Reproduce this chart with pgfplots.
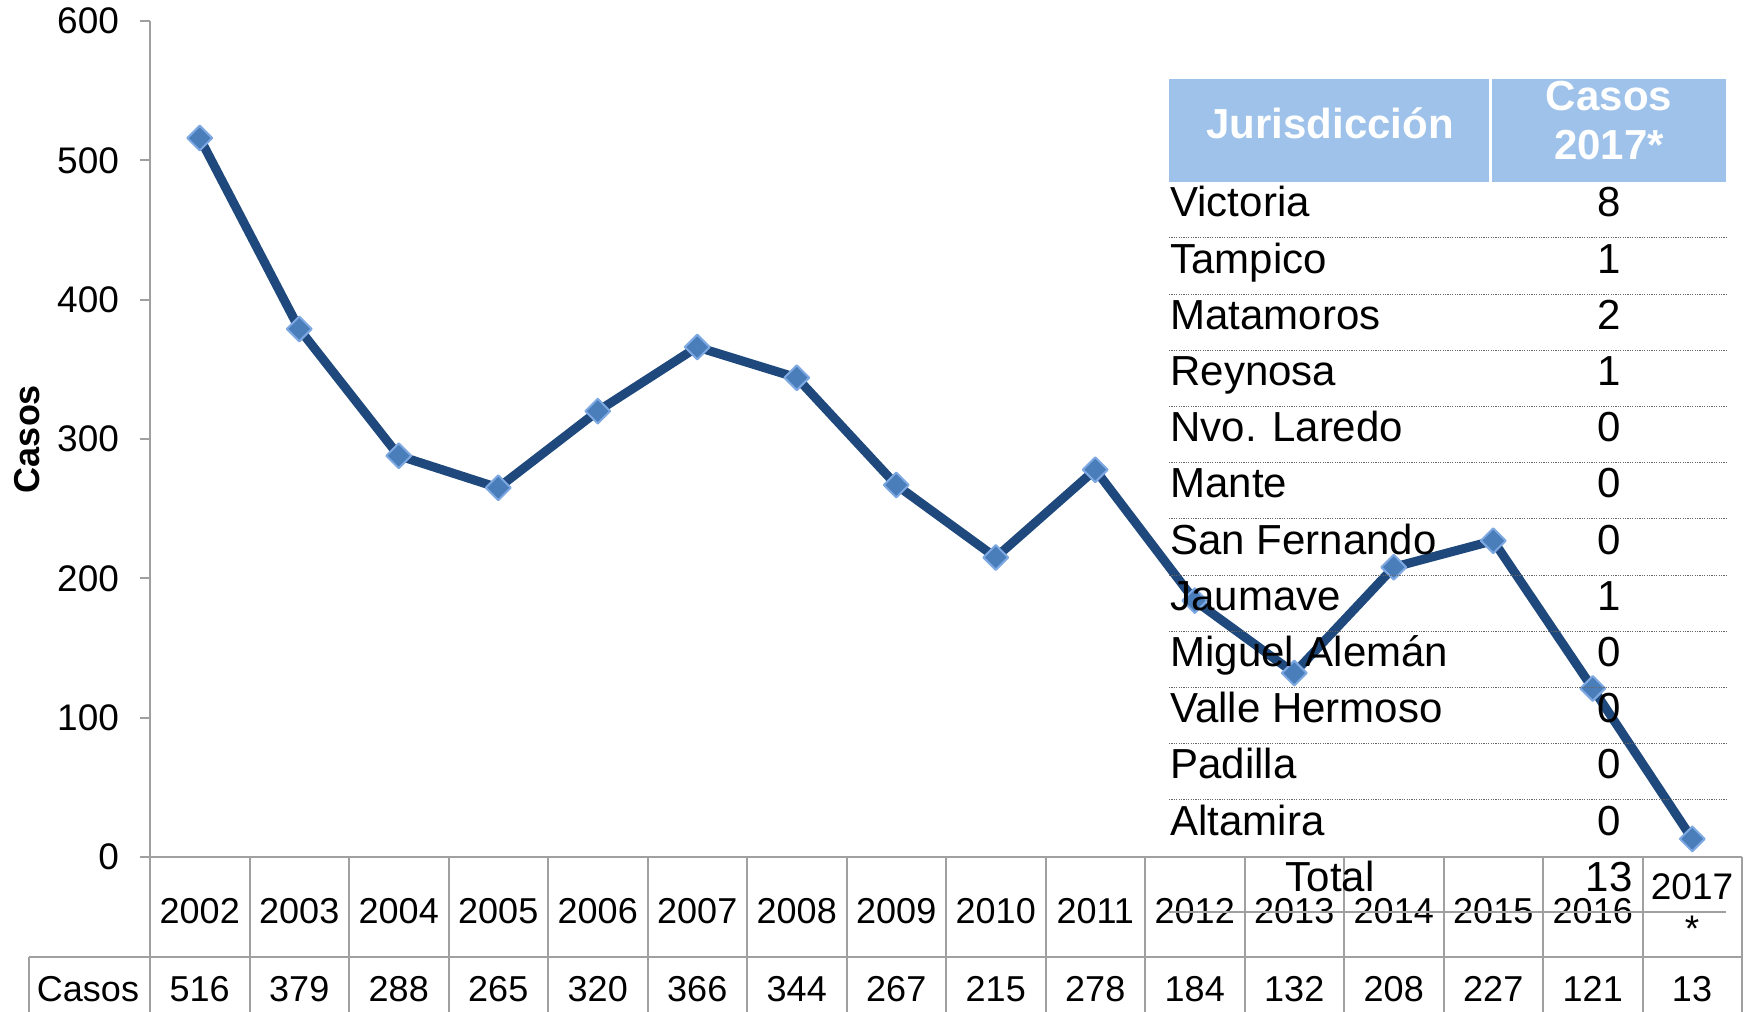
\documentclass[border=0pt]{standalone}
\usepackage{fontspec}
\setmainfont{Liberation Sans}
\usepackage{pgfplots}
\usepackage{pgfplotstable}
\pgfplotsset{compat=1.18}

\definecolor{serie}{RGB}{31,73,125}
\definecolor{marca}{RGB}{74,126,187}
\definecolor{borde}{RGB}{125,168,225}
\definecolor{encab}{RGB}{158,194,234}
\definecolor{rejilla}{RGB}{160,160,160}

% casos por anio
\pgfplotstableread{
x anio casos
0  2002 516
1  2003 379
2  2004 288
3  2005 265
4  2006 320
5  2007 366
6  2008 344
7  2009 267
8  2010 215
9  2011 278
10 2012 184
11 2013 132
12 2014 208
13 2015 227
14 2016 121
15 2017 13
}\datos

\begin{document}
\begin{tikzpicture}
\begin{axis}[
    scale only axis,
    width=796pt, height=418pt,
    xmin=-0.5, xmax=15.5,
    ymin=0, ymax=600,
    ytick={0,100,...,600},
    xtick=\empty,
    axis x line*=bottom,
    axis y line*=left,
    axis line style={rejilla, line width=1pt},
    ytick style={rejilla, line width=1pt},
    tick align=outside,
    major tick length=5pt,
    yticklabel style={font=\fontsize{18.5}{18.5}\selectfont, xshift=-7pt,
        /pgf/number format/assume math mode=true},
    clip=false,
]
\coordinate (O) at (rel axis cs:0,0);
\addplot[serie, line width=4.5pt, line join=round,
    mark=square*, mark size=4.4pt,
    mark options={rotate=45, fill=marca, draw=borde, line width=1pt}]
    table[x=x, y=casos] {\datos};
\end{axis}

% marco en pixeles de la imagen (origen arriba a la izquierda)
\begin{scope}[shift={(O)}, xshift=-75pt, yshift=428.5pt, x=0.5pt, y=-0.5pt]
\path[use as bounding box] (0,0) rectangle (1752,1012);

\node[rotate=90, font=\fontsize{18}{18}\selectfont\bfseries] at (27,439) {Casos};

% tabla de datos bajo el eje
\foreach \k in {0,...,16}
    \draw[rejilla, line width=1pt] ({150+99.5*\k},857) -- ({150+99.5*\k},1012);
\draw[rejilla, line width=1pt] (29,957) -- (1742,957);
\draw[rejilla, line width=1pt] (29,957) -- (29,1012);
\node[anchor=base, font=\fontsize{18}{18}\selectfont] at (88,1002) {Casos};
\foreach \a/\v [count=\i from 0] in {2002/516,2003/379,2004/288,2005/265,2006/320,2007/366,2008/344,2009/267,2010/215,2011/278,2012/184,2013/132,2014/208,2015/227,2016/121}{
    \node[anchor=base, font=\fontsize{18}{18}\selectfont] at ({199.75+99.5*\i},924) {\a};
    \node[anchor=base, font=\fontsize{18}{18}\selectfont] at ({199.75+99.5*\i},1002) {\v};
}
\node[align=center, font=\fontsize{18.5}{21}\selectfont] at (1692,908) {2017\\*};
\node[anchor=base, font=\fontsize{18}{18}\selectfont] at (1692,1002) {13};

% tabla por jurisdiccion
\fill[encab] (1169,79) rectangle (1726,182);
\draw[white, line width=1.5pt] (1490,79) -- (1490,182);
\node[text=white, font=\fontsize{21}{21}\selectfont\bfseries] at (1330,123) {Jurisdicción};
\node[text=white, align=center, font=\fontsize{21}{24.5}\selectfont\bfseries] at (1609,121) {Casos\\2017*};
\foreach \n/\c [count=\i from 0] in {Victoria/8,Tampico/1,Matamoros/2,Reynosa/1,Nvo. Laredo/0,Mante/0,San Fernando/0,Jaumave/1,Miguel Alemán/0,Valle Hermoso/0,Padilla/0,Altamira/0}{
    \node[anchor=base west, inner sep=0pt, font=\fontsize{21}{21}\selectfont] at (1170,{217+56.2*\i}) {\n};
    \node[anchor=base, inner sep=0pt, font=\fontsize{21}{21}\selectfont] at (1609,{217+56.2*\i}) {\c};
}
\foreach \k in {0,...,10}
    \draw[black!60, line width=0.5pt, dash pattern=on 0.6pt off 0.6pt] (1169,{238+56.2*\k}) -- (1726,{238+56.2*\k});
\draw[rejilla, line width=1.2pt] (1169,857) -- (1726,857);
\node[anchor=base, inner sep=0pt, font=\fontsize{21}{21}\selectfont] at (1330,892) {Total};
\node[anchor=base, inner sep=0pt, font=\fontsize{21}{21}\selectfont] at (1609,892) {13};
\draw[rejilla, line width=1pt] (1169,912) -- (1726,912);
\end{scope}
\end{tikzpicture}
\end{document}
